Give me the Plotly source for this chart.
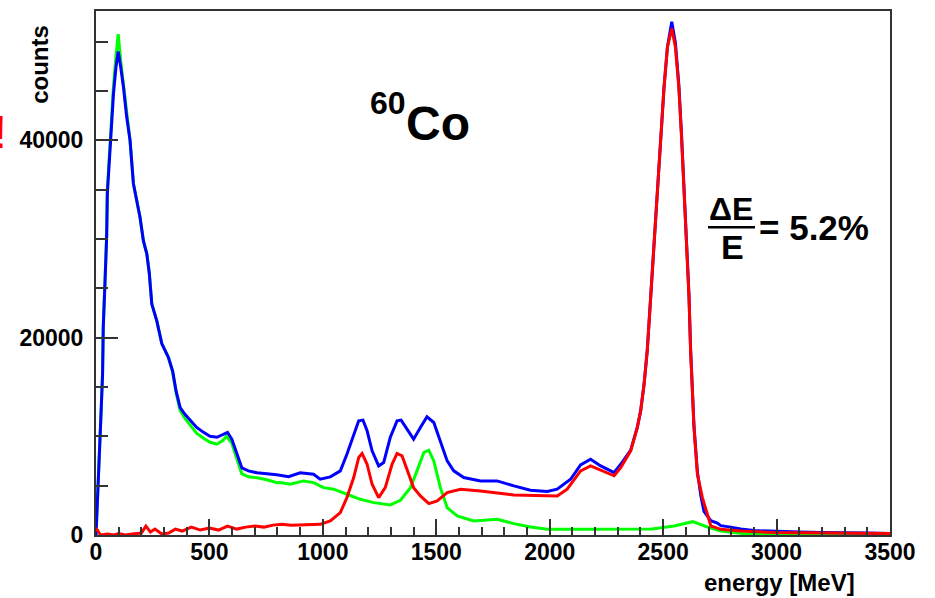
import plotly.graph_objects as go

# ---------------- data ----------------
blue_e = [0, 6, 15, 21, 29, 32, 40, 47, 50, 59, 65, 77, 88, 98, 109, 121, 135, 150, 165, 180,
          194, 209, 224, 235, 246, 268, 290, 319, 338, 353, 371, 393, 415, 444, 474, 503, 533,
          562, 580, 599, 621, 643, 672, 709, 753, 797, 849, 900, 959, 988, 1033, 1077, 1106,
          1136, 1158, 1177, 1195, 1217, 1246, 1268, 1297, 1327, 1345, 1371, 1400, 1430, 1459,
          1489, 1518, 1548, 1577, 1621, 1695, 1768, 1842, 1915, 1960, 1989, 2033, 2092, 2136,
          2180, 2225, 2284, 2313, 2357, 2386, 2401, 2416, 2430, 2445, 2460, 2474, 2489, 2504,
          2519, 2538, 2554, 2569, 2581, 2592, 2603, 2614, 2621, 2629, 2636, 2651, 2666, 2680,
          2695, 2710, 2739, 2754, 2798, 2842, 2900, 2990, 3100, 3200, 3300, 3400, 3500]
blue_c = [0, 3100, 6800, 11600, 16300, 21000, 25800, 30200, 34600, 38000, 41300, 44700, 47400,
          49000, 47400, 45400, 42400, 40000, 35600, 33900, 32200, 29800, 28500, 26500, 23400,
          21700, 19400, 18000, 16600, 14600, 12900, 12200, 11600, 10900, 10400, 10000, 9900,
          10200, 10400, 9700, 8200, 6800, 6500, 6300, 6200, 6100, 5900, 6300, 6160, 5650, 5890,
          6500, 8190, 10220, 11570, 11640, 10560, 8530, 7000, 7340, 9880, 11570, 11640, 10730,
          9710, 10890, 11980, 11400, 9540, 7510, 6500, 5820, 5480, 5480, 4975, 4535, 4470, 4400,
          4640, 5650, 7100, 7680, 7000, 6330, 7170, 8600, 10900, 12600, 15300, 18700, 24100,
          29500, 35250, 40330, 45400, 49460, 52000, 49900, 45700, 40600, 35500, 29800, 24300,
          18900, 14500, 11000, 6400, 4000, 2400, 1900, 1450, 1200, 950, 800, 600, 450, 350, 300,
          250, 250, 200, 150]

red_e = [0, 10, 20, 50, 80, 100, 130, 160, 200, 220, 240, 260, 290, 320, 350, 380, 420, 460,
         500, 540, 580, 620, 660, 700, 740, 780, 820, 860, 900, 950, 988, 1033, 1077, 1106, 1136,
         1158, 1173, 1195, 1217, 1246, 1275, 1305, 1327, 1349, 1378, 1400, 1430, 1467, 1504,
         1548, 1607, 1695, 1842, 1989, 2033, 2077, 2136, 2180, 2225, 2284, 2313, 2357, 2386,
         2401, 2416, 2430, 2445, 2460, 2474, 2489, 2504, 2519, 2538, 2554, 2569, 2581, 2592,
         2603, 2614, 2621, 2629, 2636, 2651, 2673, 2695, 2710, 2754, 2842, 2990, 3200, 3500]
red_c = [700, 300, 0, 100, 0, 150, 0, 100, 200, 900, 300, 600, 100, 200, 600, 400, 800, 500,
         700, 500, 900, 600, 800, 900, 800, 1000, 1100, 1000, 1015, 1050, 1080, 1420, 2270, 3790,
         5820, 7850, 8260, 7170, 5140, 3790, 4800, 7170, 8260, 8020, 6160, 4800, 3960, 3180,
         3450, 4300, 4640, 4470, 4060, 3960, 3960, 4640, 6500, 7000, 6600, 6000, 6830, 8530,
         10890, 12590, 15290, 18680, 24090, 29500, 35250, 40330, 45400, 49460, 51330, 49460,
         45400, 40330, 35250, 29500, 24090, 18680, 14280, 10890, 6160, 3790, 2100, 920, 575,
         400, 250, 200, 150]

green_e = [0, 6, 15, 21, 29, 32, 40, 47, 50, 59, 65, 77, 88, 98, 109, 121, 135, 150, 165, 180,
           194, 209, 224, 235, 246, 268, 290, 319, 338, 353, 371, 393, 415, 444, 474, 503, 533,
           560, 575, 599, 621, 643, 672, 709, 753, 797, 812, 856, 915, 959, 1003, 1048, 1106,
           1165, 1224, 1297, 1342, 1386, 1415, 1445, 1467, 1489, 1518, 1548, 1592, 1665, 1768,
           1842, 1915, 1989, 2136, 2300, 2450, 2548, 2630, 2695, 2754, 2850, 3000, 3500]
green_c = [0, 3100, 6900, 11700, 16500, 21300, 26000, 30500, 35000, 38500, 42000, 45500, 48500,
           50750, 48000, 45600, 42500, 40000, 35600, 33900, 32200, 29800, 28500, 26500, 23400,
           21700, 19400, 18000, 16500, 14400, 12600, 11800, 11100, 10300, 9800, 9400, 9200,
           9600, 10000, 9300, 7700, 6200, 5900, 5800, 5600, 5300, 5310, 5140, 5480, 5310, 4800,
           4640, 4130, 3620, 3280, 3045, 3520, 4800, 6500, 8360, 8600, 7510, 4800, 2770, 1930,
           1420, 1590, 1150, 810, 575, 575, 550, 600, 915, 1350, 810, 400, 150, 80, 30]

x_ticks = [0, 500, 1000, 1500, 2000, 2500, 3000, 3500]
x_ticktext = ["0", "500", "1000", "1500", "2000", "2500", "3000", "3500"]
y_ticks = [0, 20000, 40000]
y_ticktext = ["0", "20000", "40000"]
x_range = [0, 3500]
y_range = [0, 53100]

# ---------------- figure ----------------
W, H = 935, 598
L, R, T, B = 96, 45, 9, 63
PW, PH = W - L - R, H - T - B


def px(xp, yp):
    return (xp - L) / PW, (H - B - yp) / PH


FONT = "Liberation Sans, Arial, sans-serif"

fig = go.Figure()
fig.add_trace(go.Scatter(x=green_e, y=green_c, mode="lines",
                         line=dict(color="#00ff00", width=3), showlegend=False))
fig.add_trace(go.Scatter(x=blue_e, y=blue_c, mode="lines",
                         line=dict(color="#0000ff", width=3), showlegend=False))
fig.add_trace(go.Scatter(x=red_e, y=red_c, mode="lines",
                         line=dict(color="#ff0000", width=3), showlegend=False))

axis_common = dict(showgrid=False, zeroline=False, showline=True, mirror=True,
                   linecolor="#333333", linewidth=2, ticks="inside", tickcolor="#333333",
                   tickwidth=1.5,
                   tickfont=dict(family=FONT, size=23, color="black", weight="bold"))

fig.update_xaxes(range=x_range, tickvals=x_ticks, ticktext=x_ticktext,
                 ticklen=16, ticklabelstandoff=-5,
                 minor=dict(dtick=100, ticklen=8, ticks="inside", tickcolor="#333333"),
                 **axis_common)
fig.update_yaxes(range=y_range, tickvals=y_ticks, ticktext=y_ticktext, ticklen=22,
                 ticklabelstandoff=6,
                 minor=dict(dtick=5000, ticklen=12, ticks="inside", tickcolor="#333333"),
                 **axis_common)

ann = []


def add_text(text, xp, yp, size, xanchor="center", yanchor="middle", color="black",
             angle=0, weight="bold"):
    x, y = px(xp, yp)
    ann.append(dict(text=text, x=x, y=y, xref="paper", yref="paper", showarrow=False,
                    xanchor=xanchor, yanchor=yanchor, textangle=angle,
                    font=dict(family=FONT, size=size, color=color, weight=weight)))


add_text("counts", 40, 63, 24, angle=-90)
add_text("energy [MeV]", 857, 583, 24, xanchor="right")
add_text("60", 368, 101, 32, xanchor="left")
add_text("Co", 404, 122, 48, xanchor="left")
add_text("\u0394E", 731, 208, 32)
add_text("E", 732, 246, 34)
add_text("= 5.2%", 757, 226, 35, xanchor="left")
add_text("!", 9, 130, 46, xanchor="right", color="#ff0000", weight="normal")

x0, y0 = px(708, 226)
x1, _ = px(755, 226)
fig.add_shape(type="line", xref="paper", yref="paper", x0=x0, x1=x1, y0=y0, y1=y0,
              line=dict(color="black", width=2.5))

fig.update_layout(width=W, height=H, margin=dict(l=L, r=R, t=T, b=B),
                  paper_bgcolor="white", plot_bgcolor="white", annotations=ann,
                  showlegend=False)

fig.write_html("out.html")
